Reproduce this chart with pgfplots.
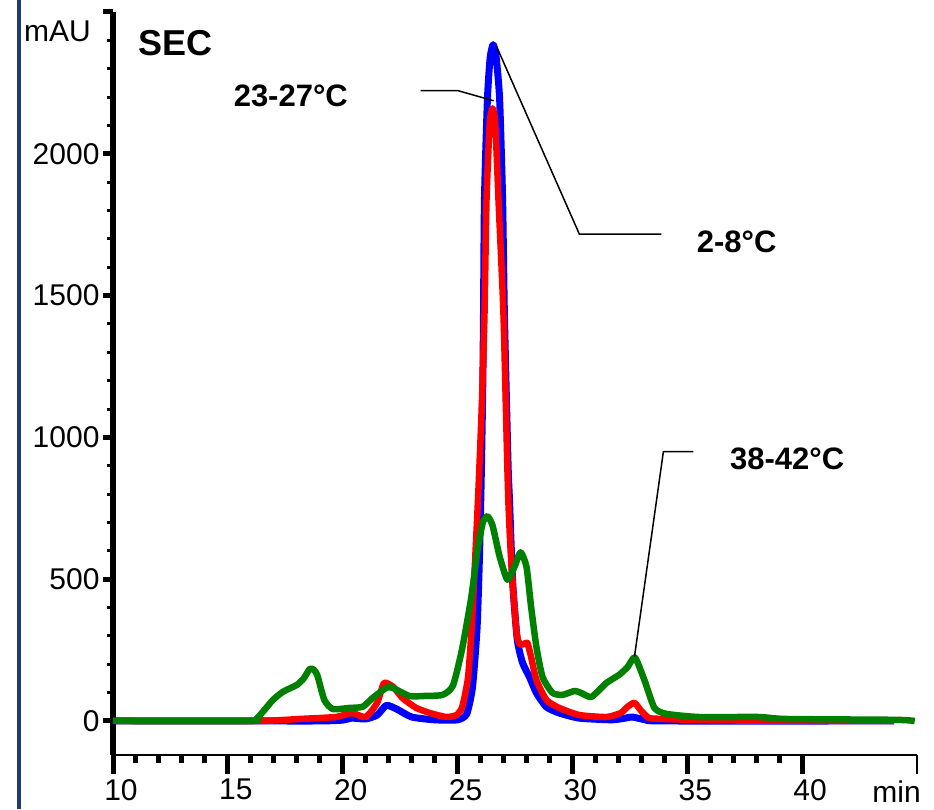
\documentclass[border=0pt]{standalone}
\usepackage{fontspec}
\setmainfont{Liberation Sans}
\usepackage{pgfplots}
\pgfplotsset{compat=1.18}
\definecolor{navyline}{RGB}{30,62,110}
\definecolor{cgreen}{RGB}{0,128,0}
\newcommand{\tf}{\fontsize{30}{36}\selectfont}
\newcommand{\lf}{\fontsize{31}{37}\selectfont\bfseries}
\begin{document}
\begin{tikzpicture}[x=1pt,y=1pt]
\useasboundingbox (0,0) rectangle (934,809);
\draw[navyline, line width=4pt] (19.3,0) -- (19.3,809);
% main axis: data, y ticks
\begin{axis}[
  at={(113pt,54pt)}, anchor=south west,
  scale only axis, width=804pt, height=743pt,
  xmin=10, xmax=45, ymin=-120, ymax=2500,
  axis x line*=bottom, axis y line*=left,
  separate axis lines,
  every outer x axis line/.append style={line width=2pt, black},
  every outer y axis line/.append style={line width=5.5pt, black},
  xtick=\empty,
  ytick={0,500,1000,1500,2000,2500},
  yticklabels={0,500,1000,1500,2000,{}},
  minor y tick num=4,
  tick align=outside,
  major tick length=10pt, minor tick length=5.5pt,
  major tick style={line width=5pt, black},
  minor tick style={line width=3pt, black},
  yticklabel style={font=\tf, anchor=east, xshift=0pt},
  clip=false,
]
\addplot[blue, line width=7pt, line join=round, smooth, tension=0.35] coordinates {
(10,0) (16,0) (19,0) (20,3) (20.4,10) (21.0,7) (21.5,21) (21.9,55) (22.35,42)
(23.0,14) (24.0,4) (25.0,4) (25.4,25) (25.65,120) (25.85,330) (25.96,600)
(26.04,900) (26.1,1200) (26.13,1450) (26.17,1840) (26.3,2194) (26.42,2340)
(26.55,2385) (26.68,2340) (26.83,2194) (26.96,1841) (27.04,1430) (27.2,900)
(27.26,781) (27.4,487) (27.6,286) (27.83,205) (28.13,155) (28.43,99)
(28.87,49) (29.43,28) (30.3,10) (31.7,4) (32.3,10) (32.6,14) (33.2,4)
(34,0) (44,0)
};
\addplot[red, line width=6.5pt, line join=round, smooth, tension=0.35] coordinates {
(10,0) (16.3,0) (18.1,7) (19.7,14) (20.4,28) (21.0,14) (21.5,64) (21.8,134)
(22.2,120) (22.6,81) (23.2,46) (23.8,28) (24.5,14) (24.95,21) (25.2,49)
(25.45,150) (25.6,311) (25.75,544) (25.9,800) (26.05,1100) (26.17,1430)
(26.26,1840) (26.4,2110) (26.52,2160) (26.64,2110) (26.78,1840) (27.0,1430)
(27.2,800) (27.35,544) (27.57,311) (27.72,270) (27.9,272) (28.04,275)
(28.2,226) (28.43,145) (28.87,74) (29.43,46) (30.3,21) (31.48,14) (32.1,28)
(32.4,50) (32.7,64) (33.0,35) (33.3,12) (33.65,8) (36.4,2) (44.0,0)
};
\addplot[cgreen, line width=6.5pt, line join=round, smooth, tension=0.35] coordinates {
(10,0) (16.0,0) (16.25,8) (16.5,30) (16.96,74) (17.4,103) (18.0,127) (18.3,150)
(18.57,184) (18.75,180) (18.9,160) (19.2,74) (19.57,42) (20.3,46) (20.87,50)
(21.3,81) (21.9,117) (22.17,117) (22.9,88) (23.5,88) (24.35,92) (24.8,125)
(25.2,255) (25.6,438) (25.87,604) (26.1,700) (26.3,722) (26.52,690)
(26.83,580) (27.17,498) (27.48,544) (27.74,595) (28.0,544) (28.2,403)
(28.43,262) (28.7,155) (29.13,99) (29.57,92) (30.1,106) (30.4,98) (30.83,85)
(31.48,134) (32.04,163) (32.4,190) (32.72,224) (33.13,145) (33.57,46)
(34.1,25) (35.5,14) (38.1,14) (39.3,7) (44.1,4) (44.9,0)
};
% leader lines
\draw[black, line width=1.5pt] (axis cs:23.39,2223) -- (axis cs:25.0,2223) -- (axis cs:26.57,2187);
\draw[black, line width=1.5pt] (axis cs:26.7,2378) -- (axis cs:30.3,1717) -- (axis cs:33.87,1717);
\draw[black, line width=1.5pt] (axis cs:32.7,226) -- (axis cs:33.96,950) -- (axis cs:35.26,950);
% labels
\node[font=\fontsize{36}{42}\selectfont\bfseries, inner sep=0pt] at (axis cs:12.72,2390) {SEC};
\node[font=\lf, inner sep=0pt] at (axis cs:17.74,2203) {23-27°C};
\node[font=\lf, inner sep=0pt] at (axis cs:37.15,1689) {2-8°C};
\node[font=\lf, inner sep=0pt] at (axis cs:39.35,926) {38-42°C};
\node[font=\tf, inner sep=0pt, anchor=east] at (axis cs:9.04,2431) {mAU};
\node[font=\tf, inner sep=0pt, anchor=base west] at (axis cs:43.05,-286) {min};
\end{axis}
% second axis: x ticks only
\begin{axis}[
  at={(113pt,54pt)}, anchor=south west,
  scale only axis, width=804pt, height=743pt,
  xmin=10, xmax=45, ymin=-120, ymax=2500,
  axis x line*=bottom, axis y line=none,
  every outer x axis line/.append style={line width=2pt, black},
  ytick=\empty,
  xtick={10,15,20,25,30,35,40},
  minor x tick num=4,
  extra x ticks={45}, extra x tick labels={},
  extra x tick style={major tick style={line width=1.2pt, black}},
  tick align=outside,
  major tick length=19pt, minor tick length=8pt,
  major tick style={line width=5pt, black},
  minor tick style={line width=5pt, black},
  xticklabel style={font=\tf, anchor=north, inner sep=0pt, xshift=8pt, yshift=-5pt},
  /pgf/number format/assume math mode=true,
]
\addplot[draw=none] coordinates {(10,0)};
\end{axis}
\end{tikzpicture}
\end{document}
